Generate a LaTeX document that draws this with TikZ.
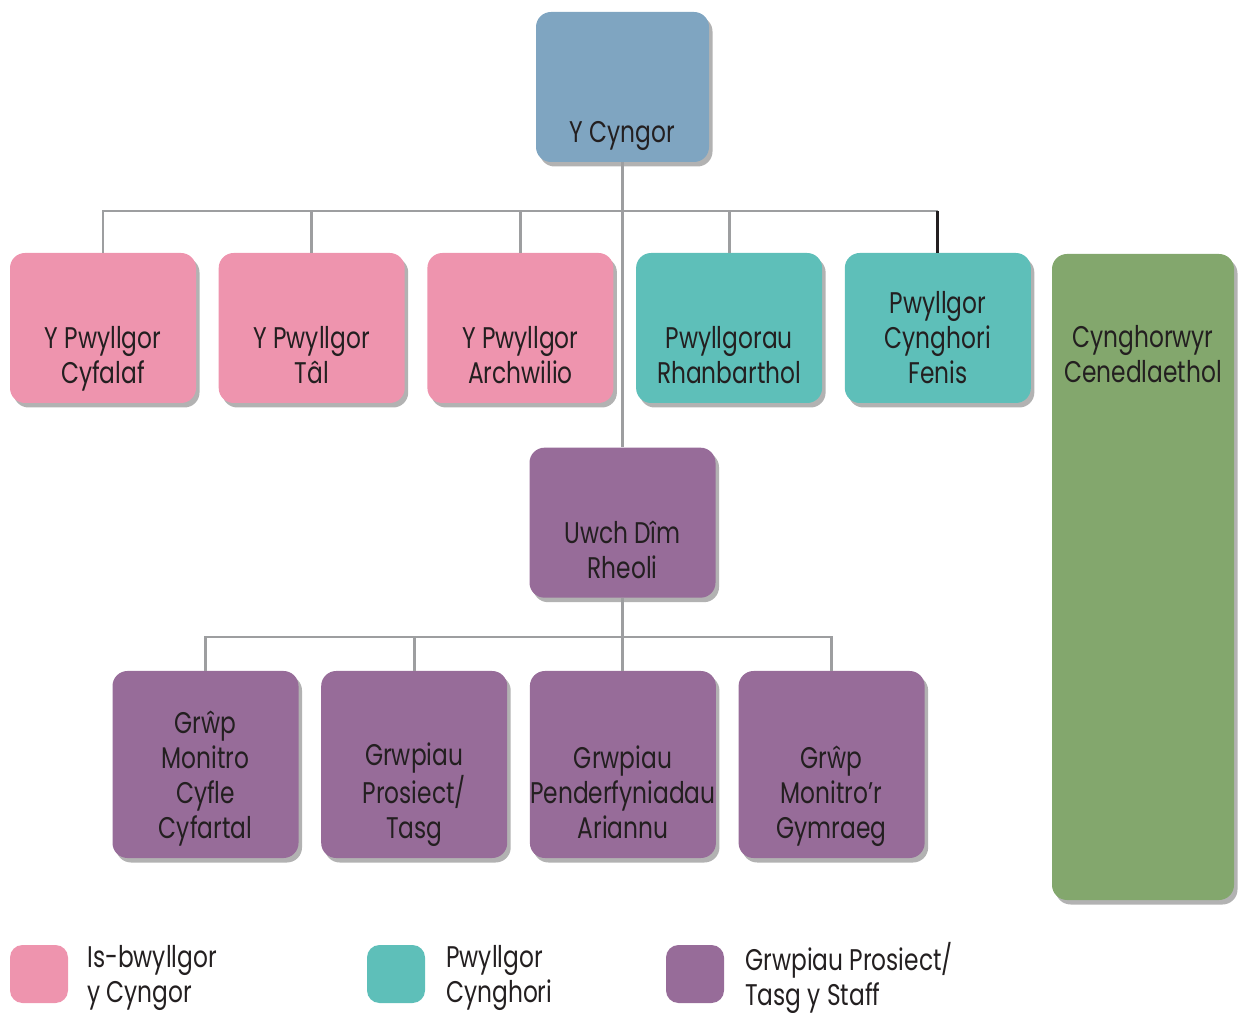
\documentclass[tikz,border=0pt]{standalone}
\usepackage{fontspec}
\setmainfont{Poppins}[FakeStretch=0.78]
\usetikzlibrary{calc,positioning,shadows}
\definecolor{cblue}{HTML}{7FA5C1}
\definecolor{cpink}{HTML}{EE94AE}
\definecolor{cteal}{HTML}{5EBFB9}
\definecolor{cpurple}{HTML}{976C99}
\definecolor{cgreen}{HTML}{83A76D}
\definecolor{txtgray}{HTML}{231F20}
\definecolor{linegray}{HTML}{9D9EA0}

\begin{document}
\begin{tikzpicture}[node distance=0.44cm,
    box/.style={rounded corners=0.3cm, minimum width=3.72cm, minimum height=3cm, inner sep=0pt,
        drop shadow={shadow xshift=0.07cm, shadow yshift=-0.09cm, fill=black, opacity=0.3}},
    txt/.style={align=center, font=\fontsize{17}{19.9}\selectfont, text=txtgray, inner sep=0pt, anchor=base},
    keybox/.style={rounded corners=0.25cm, minimum size=1.16cm, inner sep=0pt},
    keytxt/.style={align=left, font=\fontsize{17}{19.9}\selectfont, text=txtgray, inner sep=0pt, anchor=west},
    link/.style={draw=linegray, line width=1.6pt}]
        \useasboundingbox (0,0) rectangle (24.78,20.24);

        % y cyngor and committees
        \node[box, fill=cblue, minimum width=3.46cm]            (cyngor)      at (12.45,18.50) {};
        \node[box, fill=cpink]                                  (cyfalaf)     at (2.06,13.68) {};
        \node[box, fill=cpink, right=of cyfalaf]                (tal)         {};
        \node[box, fill=cpink, right=of tal]                    (archwilio)   {};
        \node[box, fill=cteal, right=of archwilio]              (rhanbarthol) {};
        \node[box, fill=cteal, right=of rhanbarthol]            (fenis)       {};
        \node[box, fill=cgreen, minimum width=3.64cm, minimum height=12.92cm] (cenedlaethol) at (22.86,8.70) {};

        % staff groups
        \node[box, fill=cpurple, below=0.88cm of cyngor.south |- archwilio.south, anchor=north] (uwch) {};
        \node[box, fill=cpurple, minimum height=3.74cm]         (cyfle)       at (4.11,4.95) {};
        \node[box, fill=cpurple, minimum height=3.74cm, right=of cyfle]   (prosiect)  {};
        \node[box, fill=cpurple, minimum height=3.74cm, right=of prosiect] (ariannu)  {};
        \node[box, fill=cpurple, minimum height=3.74cm, right=of ariannu]  (gymraeg)  {};

        % texts
        \node[txt] (cyngor t)      at ([yshift=0.40cm]cyngor.south)      {Y Cyngor};
        \node[txt] (cyfalaf t)     at ([yshift=0.40cm]cyfalaf.south)     {Y Pwyllgor\\Cyfalaf};
        \node[txt] (tal t)         at ([yshift=0.40cm]tal.south)         {Y Pwyllgor\\Tâl};
        \node[txt] (archwilio t)   at ([yshift=0.40cm]archwilio.south)   {Y Pwyllgor\\Archwilio};
        \node[txt] (rhanbarthol t) at ([yshift=0.40cm]rhanbarthol.south) {Pwyllgorau\\Rhanbarthol};
        \node[txt] (fenis t)       at ([yshift=0.40cm]fenis.south)       {Pwyllgor\\Cynghori\\Fenis};
        \node[txt] (cenedlaethol t) at ([yshift=-2.58cm]cenedlaethol.north) {Cynghorwyr\\Cenedlaethol};
        \node[txt] (uwch t)        at ([yshift=0.40cm]uwch.south)        {Uwch Dîm\\Rheoli};
        \node[txt] (cyfle t)       at ([yshift=0.40cm]cyfle.south)       {Grŵp\\Monitro\\Cyfle\\Cyfartal};
        \node[txt] (prosiect t)    at ([yshift=0.40cm]prosiect.south)    {Grwpiau\\Prosiect/\\Tasg};
        \node[txt] (ariannu t)     at ([yshift=0.40cm]ariannu.south)     {Grwpiau\\Penderfyniadau\\Ariannu};
        \node[txt] (gymraeg t)     at ([yshift=0.40cm]gymraeg.south)     {Grŵp\\Monitro’r\\Gymraeg};

        % connectors
        \coordinate (bus)  at (12.45,16.02);
        \coordinate (bus2) at (12.45,7.50);
        \draw[link] (cyngor.south) -- (cyngor.south |- uwch.north);
        \draw[link] (cyfalaf.north) |- (fenis.north |- bus);
        \foreach \n in {tal,archwilio,rhanbarthol}
            \draw[link] (\n.north) -- (\n.north |- bus);
        \draw[link, draw=txtgray] (fenis.north) -- (fenis.north |- bus);
        \draw[link] (cyngor.south |- uwch.south) -- (cyngor.south |- ariannu.north);
        \draw[link] (cyfle.north) |- (gymraeg.north |- bus2) -- (gymraeg.north);
        \draw[link] (prosiect.north) -- (prosiect.north |- bus2);

        % key
        \node[keybox, fill=cpink]   (key pink)   at (0.78,0.76) {};
        \node[keybox, fill=cteal]   (key teal)   at (7.92,0.76) {};
        \node[keybox, fill=cpurple] (key purple) at (13.90,0.76) {};
        \node[keytxt] (key pink t)   at (1.74,0.68)  {Is-bwyllgor\\y Cyngor};
        \node[keytxt] (key teal t)   at (8.92,0.68)  {Pwyllgor\\Cynghori};
        \node[keytxt] (key purple t) at (14.90,0.68) {Grwpiau Prosiect/\\Tasg y Staff};
\end{tikzpicture}
\end{document}
